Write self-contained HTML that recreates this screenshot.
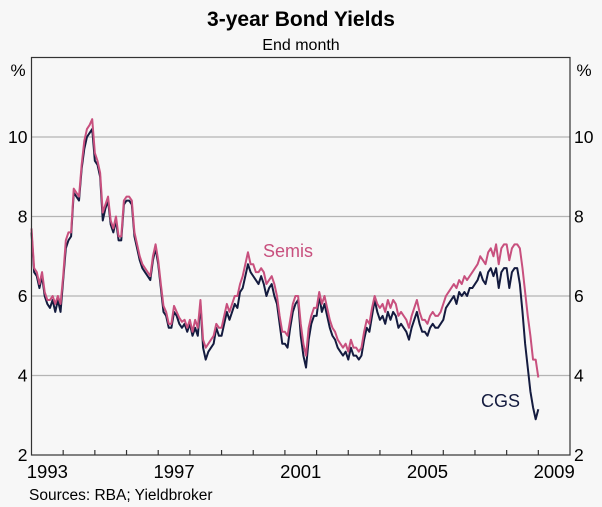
<!DOCTYPE html>
<html><head><meta charset="utf-8">
<style>
html,body{margin:0;padding:0;background:#f7f7f7;}
svg{display:block;font-family:"Liberation Sans",Arial,sans-serif;}
</style></head>
<body>
<svg id="chart" width="602" height="507" viewBox="0 0 602 507" xmlns="http://www.w3.org/2000/svg">
<rect width="602" height="507" fill="#f7f7f7"/>
<text x="301" y="26" text-anchor="middle" font-size="21" font-weight="bold" fill="#000">3-year Bond Yields</text>
<text x="301" y="50" text-anchor="middle" font-size="16" fill="#000">End month</text>
<text x="18" y="76" text-anchor="middle" font-size="17">%</text>
<text x="584" y="76" text-anchor="middle" font-size="17">%</text>
<g id="grid"></g>
<g id="series"></g>
<g id="axes"></g>
<text x="263" y="257" font-size="18" fill="#c8507e">Semis</text>
<text x="481" y="407" font-size="18" fill="#141b3f">CGS</text>
<text x="29" y="500" font-size="15.5" fill="#000">Sources: RBA; Yieldbroker</text>
</svg>
<script>
const yTicks = [2,4,6,8,10];
const xLabels = ["1993","1997","2001","2005","2009"];
const startYear = 1993;
const cgs = [
7.6,6.6,6.5,6.2,6.5,6.0,5.8,5.7,5.9,5.6,5.9,5.6,
6.4,7.2,7.4,7.5,8.6,8.5,8.4,9.2,9.7,10.0,10.1,10.2,
9.4,9.3,9.0,7.9,8.2,8.4,7.8,7.6,7.9,7.4,7.4,8.3,
8.4,8.4,8.3,7.5,7.2,6.9,6.7,6.6,6.5,6.4,6.9,7.2,
6.8,6.2,5.6,5.5,5.2,5.2,5.6,5.5,5.3,5.2,5.3,5.1,
5.3,5.0,5.2,5.0,5.8,4.7,4.4,4.6,4.7,4.8,5.2,5.0,
5.0,5.3,5.6,5.4,5.6,5.8,5.7,6.1,6.2,6.5,6.8,6.6,
6.5,6.4,6.3,6.5,6.3,6.0,6.2,6.3,6.0,5.8,5.3,4.8,
4.8,4.7,5.2,5.6,5.8,5.9,5.0,4.5,4.2,4.9,5.3,5.5,
5.5,6.0,5.6,5.8,5.5,5.2,5.0,4.9,4.7,4.6,4.5,4.6,
4.4,4.7,4.5,4.5,4.4,4.5,4.9,5.2,5.1,5.5,5.9,5.6,
5.4,5.5,5.3,5.6,5.4,5.6,5.5,5.2,5.3,5.2,5.1,4.9,
5.2,5.4,5.6,5.3,5.1,5.1,5.0,5.2,5.3,5.2,5.2,5.3,
5.4,5.7,5.8,5.9,6.0,5.8,6.1,6.0,6.1,6.0,6.2,6.2,
6.3,6.4,6.6,6.4,6.3,6.6,6.7,6.5,6.7,6.2,6.6,6.7,
6.7,6.2,6.6,6.7,6.7,6.3,5.6,4.8,4.2,3.6,3.2,2.9,
3.15];
const semis = [
7.7,6.7,6.6,6.3,6.6,6.1,5.9,5.9,6.0,5.8,6.0,5.8,
6.5,7.4,7.6,7.6,8.7,8.6,8.5,9.3,9.9,10.2,10.3,10.45,
9.6,9.4,9.1,8.1,8.3,8.5,7.9,7.7,8.0,7.5,7.5,8.4,
8.5,8.5,8.4,7.6,7.3,7.0,6.8,6.7,6.6,6.5,7.0,7.3,
6.9,6.3,5.75,5.6,5.3,5.3,5.75,5.6,5.45,5.35,5.4,5.2,
5.4,5.1,5.4,5.2,5.9,4.9,4.7,4.8,4.9,5.0,5.3,5.2,
5.2,5.5,5.8,5.6,5.8,6.0,6.0,6.3,6.5,6.8,7.1,6.8,
6.8,6.6,6.6,6.7,6.6,6.3,6.4,6.5,6.3,6.0,5.5,5.1,
5.1,5.0,5.4,5.8,6.0,6.0,5.3,4.8,4.5,5.2,5.5,5.7,
5.7,6.1,5.8,6.0,5.7,5.4,5.2,5.1,4.9,4.8,4.7,4.8,
4.6,4.9,4.7,4.7,4.6,4.7,5.1,5.4,5.3,5.7,6.0,5.8,
5.7,5.8,5.6,5.9,5.7,5.9,5.8,5.5,5.6,5.5,5.4,5.2,
5.5,5.7,5.9,5.6,5.4,5.4,5.3,5.5,5.6,5.5,5.5,5.6,
5.8,6.0,6.1,6.2,6.3,6.2,6.4,6.3,6.5,6.4,6.5,6.6,
6.7,6.8,7.0,6.9,6.8,7.1,7.2,7.0,7.3,6.8,7.2,7.3,
7.3,6.9,7.2,7.3,7.3,7.2,6.7,6.1,5.5,5.0,4.4,4.4,
3.95];

const NS = "http://www.w3.org/2000/svg";
const L = 31.5, R = 570, T = 57.5, B = 455;
const yMin = 2, yMax = 12, nYears = 17;
function xScale(t){ return L + (t - startYear) / nYears * (R - L); }
function yScale(v){ return B - (v - yMin) / (yMax - yMin) * (B - T); }
function mk(tag, attrs, parent){
  const e = document.createElementNS(NS, tag);
  for (const k in attrs) e.setAttribute(k, attrs[k]);
  parent.appendChild(e); return e;
}
const grid = document.getElementById('grid');
const axes = document.getElementById('axes');
const series = document.getElementById('series');

yTicks.forEach(v => {
  const y = yScale(v);
  if (v > yMin) {
    const g = mk('line', {x1:L, x2:R, y1:y, y2:y, stroke:'#b4b4b4', 'stroke-width':1.3}, grid);
    
    
  }
  const tl = mk('text', {x:L-4, y:y+6, 'text-anchor':'end', 'font-size':17.5}, axes);
  tl.textContent = v;
  
  
  const tr = mk('text', {x:R+4, y:y+6, 'text-anchor':'start', 'font-size':17.5}, axes);
  tr.textContent = v;
  
  
});

const frame = mk('rect', {x:L, y:T, width:R-L, height:B-T, fill:'none', stroke:'#333', 'stroke-width':1.2}, axes);



for (let i = 1; i < nYears; i++) {
  const x = xScale(startYear + i);
  const tk = mk('line', {x1:x, x2:x, y1:B, y2:B-5, stroke:'#333', 'stroke-width':1.2}, axes);
  
  
}
xLabels.forEach(lab => {
  const yr = +lab;
  const x = xScale(yr + 0.5);
  const t = mk('text', {x:x, y:B+23, 'text-anchor':'middle', 'font-size':18.5}, axes);
  t.textContent = lab;
  
  
});

function drawLine(arr, color, name){
  const pts = arr.map((v, i) => xScale(startYear + i / 12).toFixed(2) + ',' + yScale(v).toFixed(2)).join(' ');
  const p = mk('polyline', {points:pts, fill:'none', stroke:color, 'stroke-width':2, 'stroke-linejoin':'round'}, series);
  
  
}
drawLine(cgs, '#141b3f', 'cgs-line');
drawLine(semis, '#c8507e', 'semis-line');
</script>
</body></html>
